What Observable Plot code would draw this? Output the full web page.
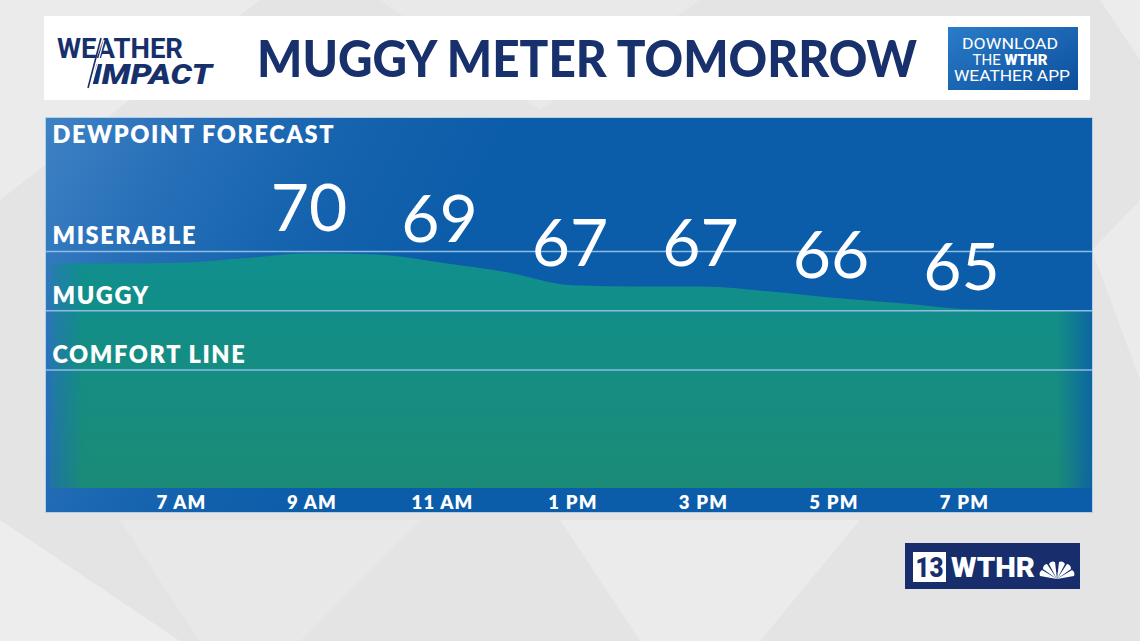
<!DOCTYPE html>
<html><head><meta charset="utf-8">
<script src="https://cdn.jsdelivr.net/npm/d3@7"></script>
<script src="https://cdn.jsdelivr.net/npm/@observablehq/plot@0.6"></script>
<style>
html,body{margin:0;padding:0;}
body{width:1140px;height:641px;position:relative;overflow:hidden;background:#e4e4e4;font-family:Lato,"Open Sans",sans-serif;}
#bg{position:absolute;left:0;top:0;}
#chart{position:absolute;left:46px;top:118px;width:1046px;height:394px;}
#chart svg{display:block;}
</style></head>
<body>
<svg id="bg" width="1140" height="641" xmlns="http://www.w3.org/2000/svg">
  <defs>
    <linearGradient id="btnGrad" x1="0" y1="0" x2="1" y2="1">
      <stop offset="0" stop-color="#2a7cc9"/>
      <stop offset="1" stop-color="#0c4f9c"/>
    </linearGradient>
  </defs>
  <!-- background facets -->
  <polygon points="0,0 260,0 0,200" fill="#ebebeb"/>
  <polygon points="380,0 700,0 540,110" fill="#e9e9e9"/>
  <polygon points="0,520 180,641 0,641" fill="#ededed"/>
  <polygon points="120,520 420,520 300,641 200,641" fill="#e8e8e8"/>
  <polygon points="560,520 860,520 760,641 640,641" fill="#ebebeb"/>
  <polygon points="1092,250 1140,200 1140,380" fill="#ebebeb"/>
  <polygon points="1100,0 1140,0 1140,60" fill="#ececec"/>
  <!-- banner -->
  <rect x="44" y="16" width="1046" height="84" fill="#ffffff"/>
  <!-- Weather Impact logo -->
  <text x="57" y="58" font-family="Roboto, sans-serif" font-weight="700" font-size="28" fill="#17306c" textLength="126" lengthAdjust="spacingAndGlyphs">WEATHER</text>
  <text x="92" y="84" font-family="Roboto, sans-serif" font-weight="900" font-style="italic" font-size="28" fill="#17306c" textLength="120" lengthAdjust="spacingAndGlyphs">IMPACT</text>
  <line x1="88" y1="88" x2="101" y2="38" stroke="#17306c" stroke-width="1.6"/>
  <line x1="92" y1="84" x2="104" y2="40" stroke="#ffffff" stroke-width="1.2"/>
  <!-- Title -->
  <text x="257" y="77" font-family="Lato, sans-serif" font-weight="900" font-size="52" fill="#18306b" textLength="660" lengthAdjust="spacingAndGlyphs">MUGGY METER TOMORROW</text>
  <!-- download button -->
  <rect x="948" y="27" width="130" height="63" fill="url(#btnGrad)"/>
  <text x="1010" y="49" text-anchor="middle" font-family="Roboto, sans-serif" font-size="15" fill="#ffffff" textLength="96" lengthAdjust="spacingAndGlyphs">DOWNLOAD</text>
  <text x="1010" y="65" text-anchor="middle" font-family="Roboto, sans-serif" font-size="15" fill="#ffffff">THE <tspan font-weight="900">WTHR</tspan></text>
  <text x="1012" y="81" text-anchor="middle" font-family="Roboto, sans-serif" font-size="15" fill="#ffffff" textLength="116" lengthAdjust="spacingAndGlyphs">WEATHER APP</text>
  <!-- WTHR logo -->
  <rect x="905" y="543" width="175" height="46" fill="#172d6c"/>
  <rect x="913" y="552" width="33" height="30" fill="#ffffff"/>
  <text x="929.5" y="577" text-anchor="middle" font-family="Roboto, sans-serif" font-weight="900" font-size="27" fill="#172d6c" textLength="28" lengthAdjust="spacingAndGlyphs">13</text>
  <text x="951" y="577" font-family="Roboto, sans-serif" font-weight="900" font-size="28" fill="#ffffff" textLength="84" lengthAdjust="spacingAndGlyphs">WTHR</text>
  <g transform="translate(1057,579)" fill="#ffffff">
    <path d="M0,0 L-17,-3 A5,5 0 0 1 -15,-9 Z"/>
    <path d="M0,0 L-14,-10 A5,5 0 0 1 -10,-15 Z"/>
    <path d="M0,0 L-8,-15 A5,5 0 0 1 -2,-17 Z"/>
    <path d="M0,0 L2,-17 A5,5 0 0 1 8,-15 Z"/>
    <path d="M0,0 L10,-15 A5,5 0 0 1 14,-10 Z"/>
    <path d="M0,0 L15,-9 A5,5 0 0 1 17,-3 Z"/>
  </g>
</svg>
<div id="chart"></div>
<script>
// ---- data ----
const hours = [5, 6, 7, 8, 9, 10, 11, 12, 13, 14, 15, 16, 17, 18, 19, 20, 21];
const dewpoints = [68.95, 68.95, 69.0, 69.4, 69.8, 69.7, 69.0, 68.2, 67.1, 67.0, 67.0, 66.6, 66.05, 65.6, 65.1, 65.0, 65.0];
const labelHours = [9, 11, 13, 15, 17, 19];
const labelValues = [70, 69, 67, 67, 66, 65];
const tickHours = [7, 9, 11, 13, 15, 17, 19];
const tickLabels = ["7 AM", "9 AM", "11 AM", "1 PM", "3 PM", "5 PM", "7 PM"];
const zoneNames = ["MISERABLE", "MUGGY", "COMFORT LINE"];
const zoneValues = [70, 65, 60];
const panelTitle = "DEWPOINT FORECAST";

const series = hours.map((h, i) => ({h, v: dewpoints[i]}));
const labels = labelHours.map((h, i) => ({h, v: labelValues[i]}));
const zones = zoneNames.map((n, i) => ({n, v: zoneValues[i]}));

const chart = Plot.plot({
  width: 1046,
  height: 394,
  marginTop: 0, marginRight: 0, marginBottom: 24, marginLeft: 0,
  style: {
    background: "linear-gradient(118deg, #3f82c4 0%, #2a72ba 10%, #1663ae 24%, #0b5ca9 38%, #0b5ca9 100%)",
    overflow: "visible",
    fontFamily: "Lato, 'Open Sans', sans-serif",
    outline: "1px solid rgba(160,200,235,0.75)"
  },
  x: {domain: [5, 21], range: [4.5, 1048.5]},
  y: {domain: [50, 81.22], axis: null},
  marks: [
    Plot.areaY(series, {x: "h", y1: 50, y2: "v", curve: "monotone-x", fill: "url(#tealGrad)", clip: true}),
    Plot.ruleY(zones, {y: "v", stroke: "#8dbde3", strokeWidth: 1.6}),
    Plot.text(zones, {y: "v", text: "n", frameAnchor: "left", dx: 6, dy: -7, lineAnchor: "bottom", textAnchor: "start", fill: "#ffffff", fontSize: 23.5, fontWeight: 800, className: "band-label"}),
    Plot.text([panelTitle], {text: d => d, frameAnchor: "top-left", dx: 6, dy: 8, lineAnchor: "top", textAnchor: "start", fill: "#ffffff", fontSize: 23.5, fontWeight: 800, className: "band-label"}),
    Plot.text(labels, {x: "h", y: "v", text: d => String(d.v), dy: -42, dx: -3, fill: "#ffffff", fontSize: 66, fontWeight: 400, fontFamily: "Lato, sans-serif"}),
    Plot.axisX(tickHours, {tickSize: 0, tickPadding: 7, tickFormat: (d, i) => tickLabels[i], fontSize: 18.5, fontWeight: 800, color: "#ffffff", label: null, className: "tick-label"})
  ]
});

// gradients for the area and its faded edges
const svg = d3.select(chart);
svg.selectAll(".band-label text").style("letter-spacing", "1.6px");
svg.selectAll(".tick-label text").style("letter-spacing", "1.2px");
const defs = svg.insert("defs", ":first-child");
const tg = defs.append("linearGradient").attr("id", "tealGrad").attr("gradientUnits", "userSpaceOnUse")
  .attr("x1", 0).attr("y1", 130).attr("x2", 0).attr("y2", 370);
tg.append("stop").attr("offset", 0).attr("stop-color", "#0f8f8e");
tg.append("stop").attr("offset", 1).attr("stop-color", "#1b8b77");
const mg = defs.append("linearGradient").attr("id", "edgeGrad").attr("gradientUnits", "userSpaceOnUse")
  .attr("x1", 0).attr("y1", 0).attr("x2", 1046).attr("y2", 0);
[[0, 0.15], [0.012, 0.45], [0.035, 1], [0.967, 1], [0.99, 0.45], [1, 0.2]].forEach(([o, a]) =>
  mg.append("stop").attr("offset", o).attr("stop-color", "#ffffff").attr("stop-opacity", a));
defs.append("mask").attr("id", "edgeMask").attr("maskUnits", "userSpaceOnUse")
  .attr("x", 0).attr("y", 0).attr("width", 1046).attr("height", 394)
  .append("rect").attr("x", 0).attr("y", 0).attr("width", 1046).attr("height", 394).attr("fill", "url(#edgeGrad)");
svg.selectAll("g[aria-label='area'] path").attr("mask", "url(#edgeMask)");

document.getElementById("chart").appendChild(chart);
</script>
</body></html>
